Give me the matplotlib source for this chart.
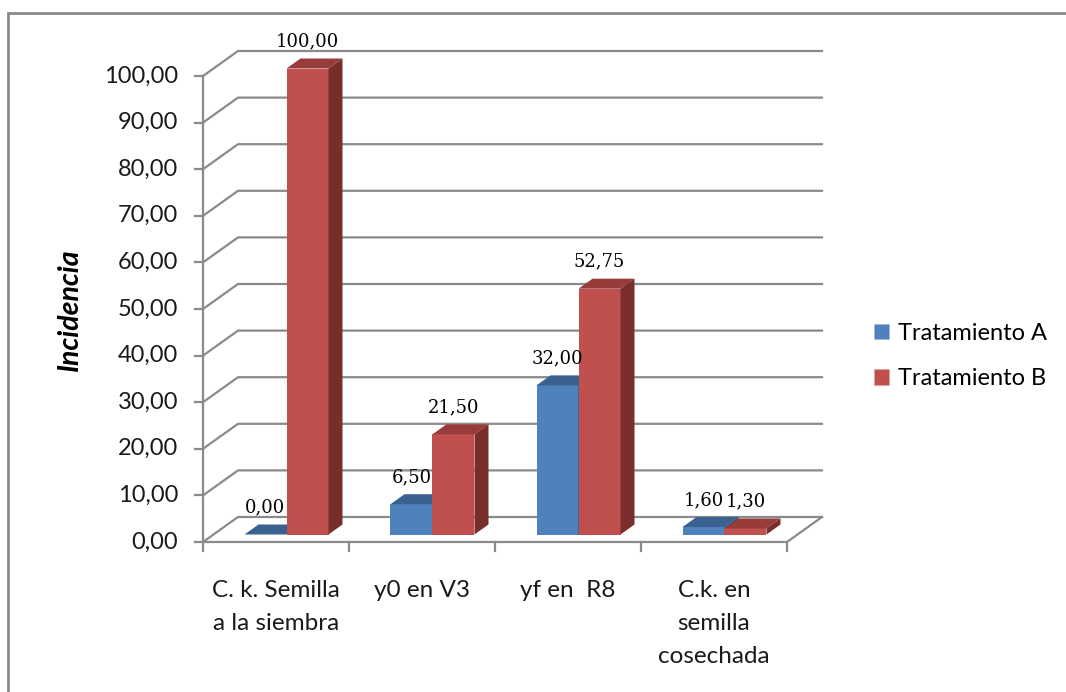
import matplotlib
matplotlib.use('Agg')
import matplotlib.pyplot as plt
from matplotlib.patches import Polygon, Rectangle, Patch

# data
categories = ['C. k. Semilla\na la siembra', 'y0 en V3', 'yf en  R8', 'C.k. en\nsemilla\ncosechada']
trat_a = [0.00, 6.50, 32.00, 1.60]
trat_b = [100.00, 21.50, 52.75, 1.30]
series_names = ['Tratamiento A', 'Tratamiento B']
yticks = list(range(0, 101, 10))

# colours (front, top, side)
BLUE = ('#4F81BD', '#3B6191', '#2E4D74')
RED = ('#C0504D', '#973C3A', '#792E2C')
GRID = '#8A8A8A'
FONT = 'Lato'

W, H = 1066, 692
fig = plt.figure(figsize=(W / 100, H / 100), dpi=100)

# pixel helpers: front plane origin at (203, 542), 146 px / category, 4.66 px / unit
X0, Y0, CPX, UPX = 203, 542, 146, 4.66
fx = lambda px: (px - X0) / CPX
fy = lambda py: (Y0 - py) / UPX
L, R, T, B = 150, 840, 25, 570
ax = fig.add_axes([L / W, 1 - B / H, (R - L) / W, (B - T) / H])
ax.set_xlim(fx(L), fx(R))
ax.set_ylim(fy(B), fy(T))
ax.axis('off')

# depth of the 3d box and of the bars
DX, DY = 35 / CPX, 25 / UPX
bx0, by0 = 0.3 * DX, 0.3 * DY
bdx, bdy = 0.4 * DX, 0.4 * DY
w = 42 / CPX
n = len(categories)

# walls and gridlines
for v in yticks:
    ax.plot([0, DX, n + DX], [v, v + DY, v + DY], color=GRID, lw=1.6, zorder=1)
ax.plot([0, n, n + DX], [0, 0, DY], color=GRID, lw=1.6, zorder=1)
ax.plot([0, 0], [0, yticks[-1]], color=GRID, lw=1.6, zorder=1)
for v in yticks:
    ax.plot([-8 / CPX, 0], [v, v], color=GRID, lw=1.6, zorder=1)
    ax.text(fx(178), v, f'{v:.2f}'.replace('.', ','), ha='right', va='center',
            fontsize=17, family=FONT, color='#1a1a1a')
for i in range(n + 1):
    ax.plot([i, i], [0, -9 / UPX], color=GRID, lw=1.6, zorder=1)
for i, c in enumerate(categories):
    ax.text(i + 0.5, fy(580), c, ha='center', va='top', fontsize=17.5,
            family=FONT, color='#1a1a1a', linespacing=1.7)

# 3d bars
z = 3
for i in range(n):
    for j, (vals, col) in enumerate([(trat_a, BLUE), (trat_b, RED)]):
        v = vals[i]
        xl = i + 0.5 - w + j * w + bx0
        ax.bar(xl, v, width=w, bottom=by0, align='edge', color=col[0],
               lw=0, zorder=z)
        top = [(xl, by0 + v), (xl + w, by0 + v), (xl + w + bdx, by0 + v + bdy),
               (xl + bdx, by0 + v + bdy)]
        side = [(xl + w, by0), (xl + w + bdx, by0 + bdy),
                (xl + w + bdx, by0 + v + bdy), (xl + w, by0 + v)]
        ax.add_patch(Polygon(top, closed=True, fc=col[1], lw=0, zorder=z))
        ax.add_patch(Polygon(side, closed=True, fc=col[2], lw=0, zorder=z))
        ax.text(xl + w / 2, by0 + v + bdy + 8 / UPX, f'{v:.2f}'.replace('.', ','),
                ha='center', va='bottom', fontsize=13, family='DejaVu Serif',
                color='black', zorder=10)
        z += 1

# y label
fig.text(70 / W, 1 - 310 / H, 'Incidencia', rotation=90, ha='center', va='center',
         fontsize=20.5, family=FONT, style='italic', weight='bold')

# legend
handles = [Patch(fc=BLUE[0], ec='#9fb6d6', lw=0.5), Patch(fc=RED[0], ec='#dca3a1', lw=0.5)]
fig.legend(handles, series_names, loc='center left', bbox_to_anchor=(853 / W, 1 - 356 / H),
           frameon=False, prop={'family': FONT, 'size': 17}, handlelength=0.64,
           handleheight=0.64, handletextpad=0.35, labelspacing=1.05)

# outer frame
fig.patches.append(Rectangle((8 / W, -0.1), 1.2, 1 - 13 / H + 0.1, transform=fig.transFigure,
                             fill=False, ec='#8A8A8A', lw=2))

fig.savefig('out.png', dpi=100, facecolor='white')
